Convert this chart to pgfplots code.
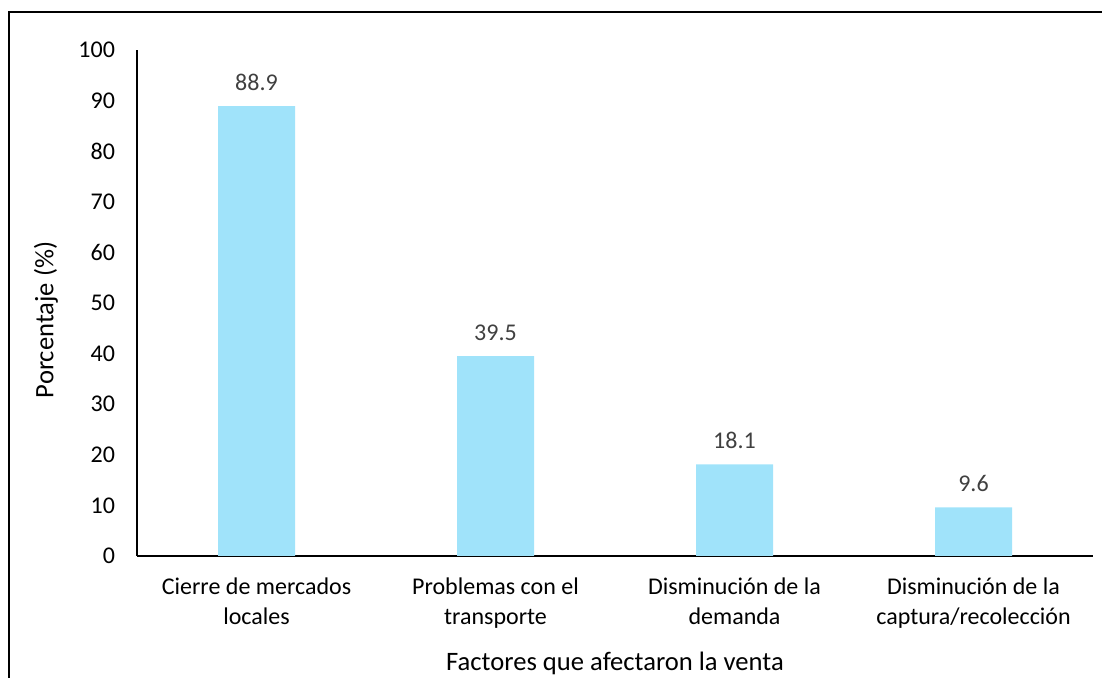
\documentclass[border=0pt]{standalone}
\usepackage{pgfplots}
\pgfplotsset{compat=1.18}
\usepackage{fontspec}
\setmainfont{Carlito}
\definecolor{barblue}{RGB}{160,227,250}
\definecolor{lblgray}{RGB}{64,64,64}
\newcommand{\chartfont}{\fontsize{13.3}{15}\selectfont}
\newcommand{\tickfont}{\fontsize{12}{15}\selectfont}
\begin{document}
\begin{tikzpicture}
\useasboundingbox (0pt,0pt) rectangle (551pt,339pt);
\draw[line width=1pt,black] (4.5pt,-20pt) -- (4.5pt,333pt) -- (565pt,333pt);
\begin{axis}[
  at={(68.5pt,61pt)}, anchor=south west,
  width=478pt, height=253pt, scale only axis,
  xmin=-0.5, xmax=3.5, ymin=0, ymax=100,
  axis x line*=bottom, axis y line*=left,
  axis line style={line width=0.8pt,black,-},
  ytick={0,10,...,100},
  xtick={0,1,2,3},
  xticklabels={{Cierre de mercados\\locales},{Problemas con el\\transporte},{Disminución de la\\demanda},{Disminución de la\\captura/recolección}},
  major tick length=0pt,
  /pgf/number format/assume math mode=true,
  tick label style={font=\tickfont, black},
  yticklabel style={xshift=-7.5pt},
  xticklabel style={align=center, yshift=-7.5pt},
  ybar, bar width=38.5pt,
  nodes near coords,
  nodes near coords style={font=\tickfont, text=lblgray, anchor=base, yshift=8pt},
  point meta=explicit symbolic,
  clip=false,
]
\addplot[fill=barblue, draw=none] coordinates {(0,88.9)[88.9] (1,39.5)[39.5] (2,18.1)[18.1] (3,9.6)[9.6]};
\end{axis}
\node[font=\chartfont] at (307.5pt,7.5pt) {Factores que afectaron la venta};
\node[font=\chartfont, rotate=90] at (23pt,179pt) {Porcentaje (\%)};
\end{tikzpicture}
\end{document}
